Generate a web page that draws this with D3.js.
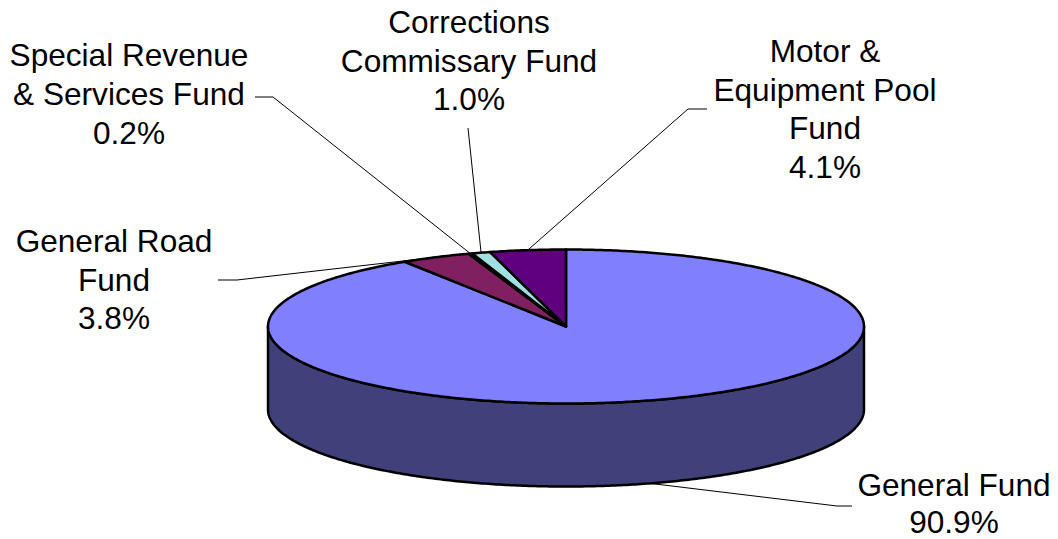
<!DOCTYPE html>
<meta charset="utf-8">
<title>Fund share</title>
<script src="https://d3js.org/d3.v7.min.js"></script>
<style>
body {margin: 0; background: #fff;}
.label {font-family: "Liberation Sans", Arial, sans-serif; font-size: 31.6px; fill: #000;}
.leader {fill: none; stroke: #000; stroke-width: 1px;}
</style>
<body>
<div id="chart"></div>
<script>
// data, clockwise from 12 o'clock
var funds = ["General Fund", "General Road Fund", "Special Revenue & Services Fund",
             "Corrections Commissary Fund", "Motor & Equipment Pool Fund"];
var shares = [90.9, 3.8, 0.2, 1.0, 4.1];
var labelText = [
  ["General Fund"],
  ["General Road", "Fund"],
  ["Special Revenue", "& Services Fund"],
  ["Corrections", "Commissary Fund"],
  ["Motor &", "Equipment Pool", "Fund"]
];
var topColors = ["#8080ff", "#802060", "#ffffc0", "#a0e0e0", "#600080"];
var sideColors = ["#40407a", "#401030", "#808060", "#507070", "#300040"];

// label placement: centre x, first baseline, row step, leader end near text, optional elbow
var labelPos = [
  {x: 954, y: 496, step: 36.5, end: [852, 506], elbow: [837, 506]},
  {x: 114, y: 252, step: 38.5, end: [218, 280], elbow: [237, 280]},
  {x: 129, y: 66,  step: 39,   end: [255, 97],  elbow: [273, 97]},
  {x: 469, y: 33,  step: 38.5, end: [468, 128], elbow: null},
  {x: 825, y: 62,  step: 38.7, end: [707, 109], elbow: [688, 109]}
];

var width = 1058, height = 539;
var cx = 566, cy = 326.5, rx = 298, ry = 77, depth = 83;

var svg = d3.select("#chart")
  .append("svg")
    .attr("width", width)
    .attr("height", height);

var pie = d3.pie().sort(null).value(function(d) { return d; });
var arcs = pie(shares);

// project angle (clockwise from top) onto the tilted ellipse
function px(a) { return cx + rx * Math.sin(a); }
function py(a, dz) { return cy - ry * Math.cos(a) + (dz || 0); }

function arcPoints(a0, a1, dz) {
  var n = Math.max(2, Math.ceil(Math.abs(a1 - a0) / 0.01));
  var pts = [];
  for (var i = 0; i <= n; i++) {
    var a = a0 + (a1 - a0) * i / n;
    pts.push([px(a), py(a, dz)]);
  }
  return pts;
}

var line = d3.line();

// front walls
var front0 = Math.PI / 2, front1 = Math.PI * 1.5;
svg.append("g")
  .selectAll("path")
  .data(arcs.filter(function(d) { return d.endAngle > front0 && d.startAngle < front1; }))
  .enter()
  .append("path")
    .attr("d", function(d) {
      var s0 = Math.max(d.startAngle, front0), s1 = Math.min(d.endAngle, front1);
      var pts = arcPoints(s0, s1, 0).concat(arcPoints(s1, s0, depth));
      return line(pts) + "Z";
    })
    .style("fill", function(d) { return sideColors[d.index]; })
    .style("stroke", "#000")
    .style("stroke-width", 2.5)
    .style("stroke-linejoin", "round");

// top faces
svg.append("g")
  .selectAll("path")
  .data(arcs)
  .enter()
  .append("path")
    .attr("d", function(d) {
      var pts = [[cx, cy]].concat(arcPoints(d.startAngle, d.endAngle, 0));
      return line(pts) + "Z";
    })
    .style("fill", function(d) { return topColors[d.index]; })
    .style("stroke", "#000")
    .style("stroke-width", 2.5)
    .style("stroke-linejoin", "round");

// leader lines
svg.append("g")
  .selectAll("path")
  .data(arcs)
  .enter()
  .append("path")
    .attr("class", "leader")
    .attr("d", function(d) {
      var m = (d.startAngle + d.endAngle) / 2;
      var front = m > front0 && m < front1;
      var anchor = [px(m), py(m, front ? depth : 0)];
      var p = labelPos[d.index];
      var pts = [p.end];
      if (p.elbow) pts.push(p.elbow);
      pts.push(anchor);
      return line(pts);
    });

// labels
var fmt = d3.format(".1f");
var labels = svg.append("g")
  .selectAll("text")
  .data(arcs)
  .enter()
  .append("text")
    .attr("class", "label")
    .attr("text-anchor", "middle")
    .attr("x", function(d) { return labelPos[d.index].x; })
    .attr("y", function(d) { return labelPos[d.index].y; });

labels.each(function(d) {
  var p = labelPos[d.index];
  var rows = labelText[d.index].concat([fmt(d.data) + "%"]);
  var t = d3.select(this);
  rows.forEach(function(r, i) {
    t.append("tspan")
      .attr("x", p.x)
      .attr("y", p.y + i * p.step)
      .text(r);
  });
});
</script>
</body>
